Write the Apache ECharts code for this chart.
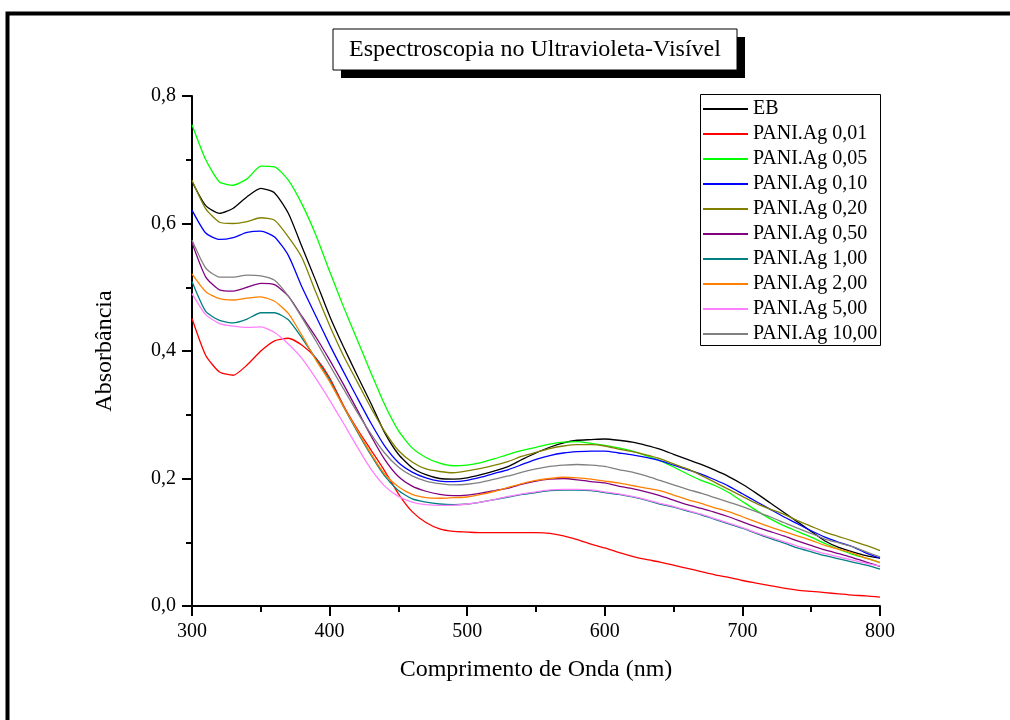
<!DOCTYPE html>
<html>
<head>
<meta charset="utf-8">
<title>Espectroscopia no Ultravioleta-Visível</title>
<script src="https://cdn.jsdelivr.net/npm/echarts@6/dist/echarts.min.js"></script>
<style>
    html, body { margin: 0; padding: 0; background: #fff; }
    #chart { width: 1010px; height: 720px; }
</style>
</head>
<body>
<div id="chart"></div>
<script>
// comprimento de onda (nm), passo de 10 nm
var wavelengths = [300, 310, 320, 330, 340, 350, 360, 370, 380, 390,
    400, 410, 420, 430, 440, 450, 460, 470, 480, 490,
    500, 510, 520, 530, 540, 550, 560, 570, 580, 590,
    600, 610, 620, 630, 640, 650, 660, 670, 680, 690,
    700, 710, 720, 730, 740, 750, 760, 770, 780, 790, 800]

var seriesNames = ['EB', 'PANI.Ag 0,01', 'PANI.Ag 0,05', 'PANI.Ag 0,10', 'PANI.Ag 0,20',
    'PANI.Ag 0,50', 'PANI.Ag 1,00', 'PANI.Ag 2,00', 'PANI.Ag 5,00', 'PANI.Ag 10,00']

var colors = ['#000000', '#ff0000', '#00ff00', '#0000ff', '#808000',
    '#800080', '#008080', '#ff8000', '#ff80ff', '#808080']

var absEB = [0.666, 0.628, 0.616, 0.624, 0.642, 0.655, 0.648, 0.616, 0.563, 0.510,
    0.455, 0.407, 0.362, 0.318, 0.272, 0.238, 0.217, 0.206, 0.200, 0.199,
    0.201, 0.206, 0.212, 0.219, 0.230, 0.240, 0.249, 0.256, 0.260, 0.261,
    0.262, 0.260, 0.257, 0.252, 0.246, 0.238, 0.230, 0.222, 0.213, 0.203,
    0.191, 0.177, 0.162, 0.147, 0.132, 0.117, 0.102, 0.092, 0.085, 0.079, 0.075]

var abs001 = [0.451, 0.393, 0.367, 0.362, 0.378, 0.400, 0.416, 0.420, 0.409, 0.389,
    0.358, 0.315, 0.278, 0.245, 0.212, 0.176, 0.148, 0.131, 0.121, 0.117,
    0.116, 0.115, 0.115, 0.115, 0.115, 0.115, 0.114, 0.110, 0.104, 0.097,
    0.091, 0.084, 0.078, 0.073, 0.069, 0.064, 0.059, 0.054, 0.049, 0.045,
    0.040, 0.036, 0.032, 0.028, 0.025, 0.023, 0.021, 0.019, 0.017, 0.016, 0.014]

var abs005 = [0.755, 0.700, 0.665, 0.660, 0.670, 0.690, 0.689, 0.668, 0.630, 0.582,
    0.525, 0.470, 0.418, 0.366, 0.316, 0.275, 0.248, 0.233, 0.224, 0.220,
    0.221, 0.225, 0.231, 0.238, 0.244, 0.249, 0.254, 0.257, 0.258, 0.255,
    0.252, 0.248, 0.243, 0.236, 0.228, 0.218, 0.207, 0.197, 0.189, 0.178,
    0.164, 0.150, 0.137, 0.126, 0.117, 0.108, 0.098, 0.089, 0.081, 0.075, 0.068]

var abs010 = [0.621, 0.585, 0.575, 0.578, 0.586, 0.588, 0.579, 0.550, 0.500, 0.455,
    0.410, 0.368, 0.327, 0.287, 0.251, 0.225, 0.210, 0.201, 0.196, 0.195,
    0.197, 0.202, 0.208, 0.214, 0.222, 0.230, 0.236, 0.240, 0.242, 0.243,
    0.243, 0.240, 0.237, 0.233, 0.228, 0.221, 0.214, 0.207, 0.198, 0.188,
    0.176, 0.164, 0.152, 0.140, 0.129, 0.118, 0.108, 0.100, 0.093, 0.083, 0.075]

var abs020 = [0.668, 0.623, 0.602, 0.600, 0.603, 0.609, 0.605, 0.579, 0.546, 0.492,
    0.440, 0.393, 0.352, 0.311, 0.274, 0.244, 0.226, 0.215, 0.211, 0.209,
    0.212, 0.216, 0.221, 0.227, 0.235, 0.241, 0.247, 0.251, 0.253, 0.253,
    0.251, 0.246, 0.242, 0.237, 0.231, 0.223, 0.215, 0.205, 0.194, 0.183,
    0.172, 0.161, 0.152, 0.144, 0.134, 0.125, 0.116, 0.109, 0.102, 0.095, 0.087]

var abs050 = [0.570, 0.516, 0.496, 0.494, 0.500, 0.506, 0.504, 0.486, 0.454, 0.422,
    0.386, 0.348, 0.308, 0.267, 0.230, 0.203, 0.188, 0.180, 0.175, 0.173,
    0.174, 0.177, 0.181, 0.185, 0.191, 0.196, 0.199, 0.200, 0.198, 0.195,
    0.193, 0.188, 0.184, 0.179, 0.173, 0.166, 0.159, 0.153, 0.147, 0.140,
    0.132, 0.124, 0.117, 0.110, 0.102, 0.095, 0.088, 0.082, 0.076, 0.069, 0.062]

var abs100 = [0.509, 0.462, 0.448, 0.444, 0.450, 0.460, 0.460, 0.449, 0.420, 0.388,
    0.355, 0.313, 0.274, 0.237, 0.204, 0.181, 0.168, 0.163, 0.160, 0.159,
    0.160, 0.163, 0.167, 0.171, 0.175, 0.178, 0.181, 0.182, 0.182, 0.181,
    0.178, 0.175, 0.171, 0.166, 0.160, 0.155, 0.149, 0.143, 0.136, 0.129,
    0.122, 0.114, 0.106, 0.099, 0.091, 0.085, 0.079, 0.074, 0.069, 0.064, 0.058]

var abs200 = [0.521, 0.493, 0.482, 0.480, 0.483, 0.485, 0.478, 0.459, 0.424, 0.386,
    0.352, 0.313, 0.276, 0.239, 0.207, 0.187, 0.175, 0.170, 0.169, 0.170,
    0.171, 0.175, 0.180, 0.186, 0.192, 0.197, 0.200, 0.202, 0.201, 0.199,
    0.196, 0.193, 0.189, 0.185, 0.181, 0.174, 0.167, 0.161, 0.154, 0.148,
    0.140, 0.132, 0.124, 0.117, 0.110, 0.103, 0.095, 0.089, 0.083, 0.075, 0.068]

var abs500 = [0.490, 0.457, 0.443, 0.439, 0.437, 0.438, 0.429, 0.411, 0.388, 0.357,
    0.323, 0.287, 0.250, 0.215, 0.188, 0.172, 0.163, 0.159, 0.158, 0.158,
    0.160, 0.163, 0.167, 0.172, 0.176, 0.179, 0.182, 0.183, 0.183, 0.182,
    0.179, 0.176, 0.172, 0.167, 0.161, 0.156, 0.150, 0.144, 0.137, 0.130,
    0.123, 0.115, 0.108, 0.101, 0.094, 0.088, 0.082, 0.077, 0.072, 0.067, 0.063]

var abs1000 = [0.574, 0.530, 0.516, 0.516, 0.519, 0.518, 0.511, 0.486, 0.452, 0.416,
    0.378, 0.341, 0.304, 0.270, 0.240, 0.218, 0.204, 0.196, 0.192, 0.190,
    0.191, 0.194, 0.199, 0.204, 0.210, 0.215, 0.219, 0.221, 0.222, 0.221,
    0.219, 0.214, 0.210, 0.204, 0.197, 0.190, 0.183, 0.177, 0.170, 0.163,
    0.156, 0.148, 0.140, 0.131, 0.122, 0.114, 0.105, 0.099, 0.093, 0.085, 0.077]

var allValues = [absEB, abs001, abs005, abs010, abs020, abs050, abs100, abs200, abs500, abs1000]

var fontFamily = '"Liberation Serif", "Times New Roman", serif'

// monta pares [x, y] para cada curva
function buildSeries() {
    return allValues.map(function (vals, i) {
        return {
            name: seriesNames[i],
            type: 'line',
            showSymbol: false,
            smooth: 0.2,
            animation: false,
            lineStyle: { color: colors[i], width: 1.3 },
            itemStyle: { color: colors[i] },
            data: vals.map(function (v, j) { return [wavelengths[j], v] })
        }
    })
}

var chart = echarts.init(document.getElementById('chart'))

var axisCommon = {
    axisLine: { show: true, onZero: false, lineStyle: { color: '#000', width: 2 } },
    axisTick: { show: true, inside: false, length: 10, lineStyle: { color: '#000', width: 2 } },
    minorTick: { show: true, splitNumber: 2, length: 6, lineStyle: { color: '#000', width: 2 } },
    splitLine: { show: false },
    nameTextStyle: { fontFamily: fontFamily, fontSize: 24, color: '#000' }
}

var option = {
    backgroundColor: '#fff',
    animation: false,
    grid: { left: 192, right: 130, top: 96, bottom: 114, containLabel: false },
    legend: {
        orient: 'vertical',
        left: 703,
        top: 99,
        icon: 'rect',
        itemWidth: 45,
        itemHeight: 2,
        itemGap: 5,
        padding: 0,
        data: seriesNames,
        textStyle: { fontFamily: fontFamily, fontSize: 20, color: '#000', lineHeight: 20 }
    },
    xAxis: Object.assign({}, axisCommon, {
        type: 'value',
        min: 300,
        max: 800,
        interval: 100,
        name: 'Comprimento de Onda (nm)',
        nameLocation: 'middle',
        nameGap: 52,
        axisLabel: { fontFamily: fontFamily, fontSize: 20, color: '#000', margin: 16 }
    }),
    yAxis: Object.assign({}, axisCommon, {
        type: 'value',
        min: 0,
        max: 0.8,
        interval: 0.2,
        name: 'Absorbância',
        nameLocation: 'middle',
        nameGap: 75,
        nameRotate: 90,
        axisLabel: {
            fontFamily: fontFamily, fontSize: 20, color: '#000', margin: 16,
            formatter: function (v) { return v.toFixed(1).replace('.', ',') }
        }
    }),
    graphic: [
        // moldura externa
        { type: 'rect', left: 5, top: 11, shape: { width: 1100, height: 800 },
            style: { fill: 'none', stroke: '#000', lineWidth: 4 }, silent: true },
        // sombra do titulo
        { type: 'rect', shape: { x: 341, y: 37, width: 404, height: 41 },
            style: { fill: '#000' }, silent: true },
        // caixa do titulo
        { type: 'rect', shape: { x: 333, y: 29, width: 404, height: 41 },
            style: { fill: '#fff', stroke: '#000', lineWidth: 1 }, silent: true },
        { type: 'text', x: 535, y: 50,
            style: { text: 'Espectroscopia no Ultravioleta-Visível', fontFamily: fontFamily, fontSize: 24,
                fill: '#000', align: 'center', verticalAlign: 'middle' }, silent: true },
        // caixa da legenda
        { type: 'rect', shape: { x: 700.5, y: 94.5, width: 180, height: 251 },
            style: { fill: 'none', stroke: '#000', lineWidth: 1 }, silent: true, z: 10 }
    ],
    series: buildSeries()
}

chart.setOption(option)
</script>
</body>
</html>
